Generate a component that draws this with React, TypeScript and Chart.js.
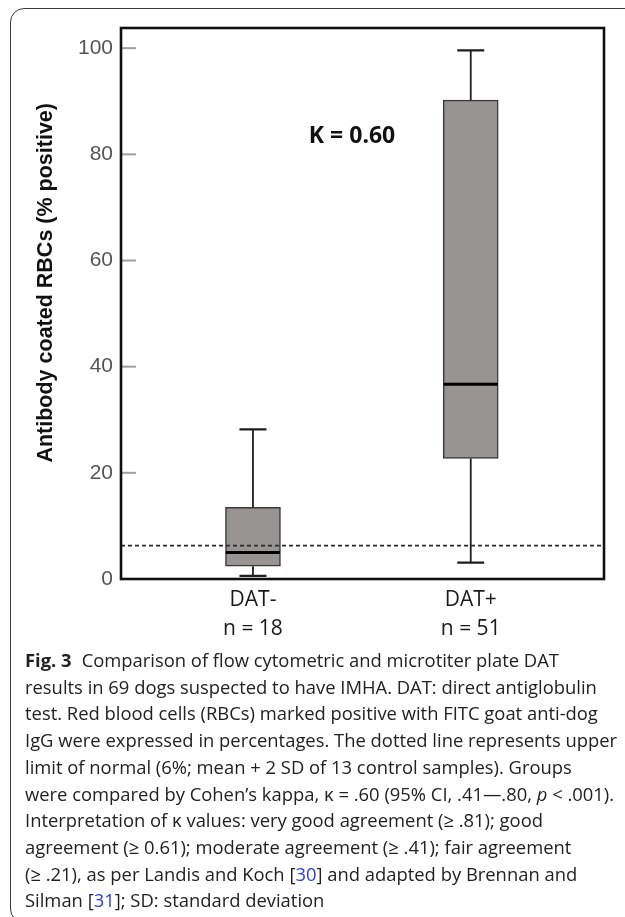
import React, { useEffect, useRef } from "react";
import { Chart, registerables } from "chart.js";

Chart.register(...registerables);

const categories = ["DAT-", "DAT+"];
const sampleSizes = ["n = 18", "n = 51"];
const whiskerLow = [0.6, 3.1];
const q1 = [2.4, 22.7];
const median = [5.0, 36.7];
const q3 = [13.5, 90.2];
const whiskerHigh = [28.2, 99.6];
const upperLimitNormal = 6.3;
const yTicks = [0, 20, 40, 60, 80, 100];
const yMax = 103.8;
const yTitle = "Antibody coated RBCs (% positive)";
const kappaLabel = "K = 0.60";

const boxPlugin = {
  id: "boxExtras",
  afterDatasetsDraw(chart: any) {
    const { ctx, chartArea, scales } = chart;
    const xs = scales.x;
    const ys = scales.y;
    ctx.save();
    // whiskers & medians
    categories.forEach((_, i) => {
      const cx = xs.getPixelForValue(i + 1);
      const halfBox = 27;
      const halfCap = 13.5;
      ctx.strokeStyle = "#1e1e1e";
      ctx.lineWidth = 1.8;
      ctx.beginPath();
      ctx.moveTo(cx, ys.getPixelForValue(q3[i]));
      ctx.lineTo(cx, ys.getPixelForValue(whiskerHigh[i]));
      ctx.moveTo(cx, ys.getPixelForValue(q1[i]));
      ctx.lineTo(cx, ys.getPixelForValue(whiskerLow[i]));
      ctx.stroke();
      ctx.lineWidth = 2.2;
      ctx.beginPath();
      ctx.moveTo(cx - halfCap, ys.getPixelForValue(whiskerHigh[i]));
      ctx.lineTo(cx + halfCap, ys.getPixelForValue(whiskerHigh[i]));
      ctx.moveTo(cx - halfCap, ys.getPixelForValue(whiskerLow[i]));
      ctx.lineTo(cx + halfCap, ys.getPixelForValue(whiskerLow[i]));
      ctx.stroke();
      ctx.strokeStyle = "#000";
      ctx.lineWidth = 3;
      ctx.beginPath();
      ctx.moveTo(cx - halfBox, ys.getPixelForValue(median[i]));
      ctx.lineTo(cx + halfBox, ys.getPixelForValue(median[i]));
      ctx.stroke();
    });
    // dashed upper-limit line
    const yd = ys.getPixelForValue(upperLimitNormal);
    ctx.strokeStyle = "#2a2a2a";
    ctx.lineWidth = 1.8;
    ctx.setLineDash([4, 3]);
    ctx.beginPath();
    ctx.moveTo(chartArea.left, yd);
    ctx.lineTo(chartArea.right, yd);
    ctx.stroke();
    ctx.setLineDash([]);
    // inner tick marks
    ctx.strokeStyle = "#a0a0a0";
    ctx.lineWidth = 2;
    yTicks.forEach((v) => {
      const y = ys.getPixelForValue(v);
      ctx.beginPath();
      ctx.moveTo(chartArea.left, y);
      ctx.lineTo(chartArea.left + 15, y);
      ctx.stroke();
    });
    // frame
    ctx.strokeStyle = "#111";
    ctx.lineWidth = 2.6;
    ctx.strokeRect(chartArea.left, chartArea.top, chartArea.right - chartArea.left, chartArea.bottom - chartArea.top);
    // kappa label
    ctx.fillStyle = "#111";
    ctx.font = "bold 23px 'Open Sans', sans-serif";
    ctx.textAlign = "center";
    ctx.textBaseline = "alphabetic";
    ctx.fillText(kappaLabel, xs.getPixelForValue(1.455), ys.getPixelForValue(82.2));
    // y axis title
    ctx.save();
    ctx.translate(46, ys.getPixelForValue(55.8));
    ctx.rotate(-Math.PI / 2);
    ctx.font = "bold 21.5px 'Liberation Sans', Arial, sans-serif";
    ctx.textAlign = "center";
    ctx.textBaseline = "middle";
    ctx.fillStyle = "#111";
    ctx.fillText(yTitle, 0, 0);
    ctx.restore();
    ctx.restore();
  },
};

function BoxChart() {
  const ref = useRef<HTMLCanvasElement | null>(null);
  useEffect(() => {
    if (!ref.current) return;
    const chart = new Chart(ref.current, {
      type: "bar",
      data: {
        datasets: [
          {
            data: categories.map((_, i) => ({ x: i + 1, y: [q1[i], q3[i]] })) as any,
            backgroundColor: "#999494",
            borderColor: "#3a3a3a",
            borderWidth: 1.5,
            borderSkipped: false,
            barThickness: 55,
          },
        ],
      },
      options: {
        animation: false,
        responsive: false,
        maintainAspectRatio: false,
        layout: { padding: { left: 0, top: 28, right: 21, bottom: 0 } },
        plugins: { legend: { display: false }, tooltip: { enabled: false } },
        scales: {
          x: {
            type: "linear",
            offset: false,
            min: 0.394,
            max: 2.612,
            grid: { display: false, drawTicks: false },
            border: { display: false },
            afterBuildTicks: (s: any) => {
              s.ticks = categories.map((_, i) => ({ value: i + 1 }));
            },
            afterFit: (s: any) => {
              s.height = 71;
            },
            ticks: {
              autoSkip: false,
              maxRotation: 0,
              padding: 7,
              color: "#1a1a1a",
              font: { family: "'Open Sans', sans-serif", size: 21, lineHeight: "29px" },
              callback: (v: any) => {
                const i = Math.round(Number(v)) - 1;
                return [categories[i], sampleSizes[i]];
              },
            },
          },
          y: {
            type: "linear",
            min: 0,
            max: yMax,
            grid: { display: false, drawTicks: false },
            border: { display: false },
            afterBuildTicks: (s: any) => {
              s.ticks = yTicks.map((v) => ({ value: v }));
            },
            afterFit: (s: any) => {
              s.width = 121;
            },
            ticks: {
              padding: 8,
              color: "#555",
              font: { family: "'Liberation Sans', Arial, sans-serif", size: 21 },
            },
          },
        },
      },
      plugins: [boxPlugin],
    } as any);
    return () => chart.destroy();
  }, []);
  return (
    <canvas
      ref={ref}
      width={625}
      height={650}
      style={{ position: "absolute", left: 0, top: 0, width: 625, height: 650 }}
    />
  );
}

const blue = { color: "#2b3fd9" };

export default function App() {
  return (
    <div
      style={{
        position: "absolute",
        left: 0,
        top: 0,
        width: 625,
        height: 917,
        overflow: "hidden",
        background: "#fff",
      }}
    >
      <div
        style={{
          position: "absolute",
          left: 10,
          top: 8,
          width: 700,
          height: 915,
          border: "1.5px solid #3a3a3a",
          borderRadius: 14,
          boxSizing: "border-box",
        }}
      />
      <BoxChart />
      <div
        style={{
          position: "absolute",
          left: 25,
          top: 647,
          fontFamily: "'Open Sans', sans-serif",
          fontSize: 18.4,
          lineHeight: "26.7px",
          color: "#222",
          whiteSpace: "nowrap",
        }}
      >
        <div>
          <b style={{ marginRight: 10 }}>Fig. 3</b>Comparison of flow cytometric and microtiter plate DAT
        </div>
        <div>results in 69 dogs suspected to have IMHA. DAT: direct antiglobulin</div>
        <div>test. Red blood cells (RBCs) marked positive with FITC goat anti-dog</div>
        <div>IgG were expressed in percentages. The dotted line represents upper</div>
        <div>limit of normal (6%; mean + 2 SD of 13 control samples). Groups</div>
        <div>
          were compared by Cohen’s kappa, κ = .60 (95% CI, .41—.80, <i>p</i> &lt; .001).
        </div>
        <div>Interpretation of κ values: very good agreement (≥ .81); good</div>
        <div>agreement (≥ 0.61); moderate agreement (≥ .41); fair agreement</div>
        <div>
          (≥ .21), as per Landis and Koch [<span style={blue}>30</span>] and adapted by Brennan and
        </div>
        <div>
          Silman [<span style={blue}>31</span>]; SD: standard deviation
        </div>
      </div>
    </div>
  );
}
